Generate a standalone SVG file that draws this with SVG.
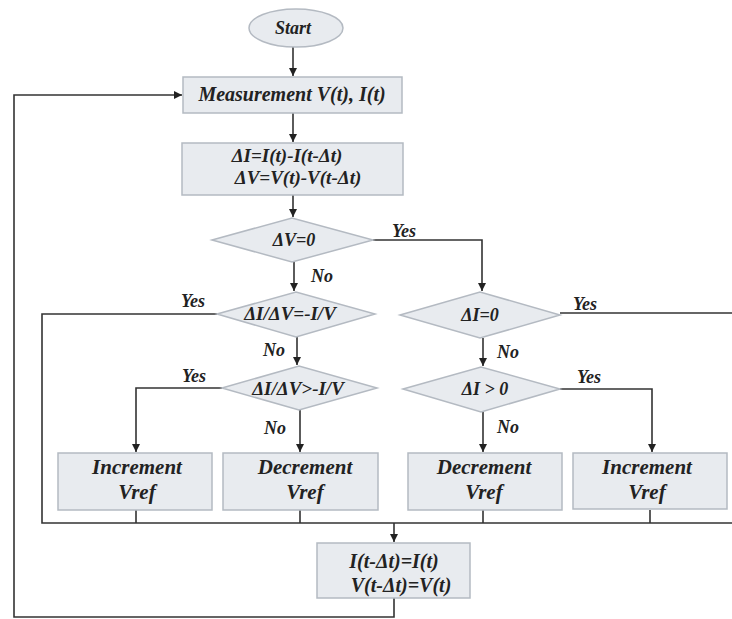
<svg xmlns="http://www.w3.org/2000/svg" width="732" height="619" viewBox="0 0 732 619">
<defs>
<marker id="arr" viewBox="0 0 10 10" refX="10" refY="5" markerWidth="8" markerHeight="9" markerUnits="userSpaceOnUse" orient="auto">
<path d="M0,0 L10,5 L0,10 z" fill="#222"/>
</marker>
<style>
.box{fill:#e8ebef;stroke:#b4bac2;stroke-width:1.5}
.ln{fill:none;stroke:#333;stroke-width:1.6}
text{font-family:'Liberation Serif','DejaVu Serif','Times New Roman',serif;font-weight:bold;font-style:italic;fill:#222;text-anchor:middle}
.s20{font-size:20px}
.s18{font-size:18px}
.s19{font-size:19px}
.s21{font-size:21px}
</style>
</defs>
<rect width="732" height="619" fill="#fff"/>
<g id="connectors">
<path class="ln" d="M293,47 V76" marker-end="url(#arr)"/>
<path class="ln" d="M293,113 V142" marker-end="url(#arr)"/>
<path class="ln" d="M293,195 V217" marker-end="url(#arr)"/>
<path class="ln" d="M373,240 H482 V291" marker-end="url(#arr)"/>
<path class="ln" d="M294,262 V291" marker-end="url(#arr)"/>
<path class="ln" d="M217,314 H42 V523 H732"/>
<path class="ln" d="M560,313 H732"/>
<path class="ln" d="M297,337 V365" marker-end="url(#arr)"/>
<path class="ln" d="M483,338 V366" marker-end="url(#arr)"/>
<path class="ln" d="M222,388 H136 V452" marker-end="url(#arr)"/>
<path class="ln" d="M300,410 V452" marker-end="url(#arr)"/>
<path class="ln" d="M560,389 H652 V452" marker-end="url(#arr)"/>
<path class="ln" d="M483,412 V452" marker-end="url(#arr)"/>
<path class="ln" d="M136,510 V523 M300,510 V523 M483,510 V523 M650,510 V523"/>
<path class="ln" d="M394,523 V542" marker-end="url(#arr)"/>
<path class="ln" d="M394,598 V617 H14 V95 H182" marker-end="url(#arr)"/>
<text class="s18" x="404" y="237">Yes</text>
<text class="s18" x="322" y="282">No</text>
<text class="s18" x="193" y="307">Yes</text>
<text class="s18" x="274" y="356">No</text>
<text class="s18" x="194" y="382">Yes</text>
<text class="s18" x="275" y="434">No</text>
<text class="s18" x="585" y="310">Yes</text>
<text class="s18" x="508" y="358">No</text>
<text class="s18" x="589" y="383">Yes</text>
<text class="s18" x="508" y="433">No</text>
</g>
<g id="start">
<ellipse cx="296" cy="28" rx="47" ry="19" class="box"/>
<text class="s18" x="293" y="34">Start</text>
</g>
<g id="measure">
<rect class="box" x="183" y="77" width="219" height="36"/>
<text class="s20" x="292" y="101">Measurement V(t), I(t)</text>
</g>
<g id="delta">
<rect class="box" x="182" y="143" width="221" height="52"/>
<text class="s19" x="287" y="162">ΔI=I(t)-I(t-Δt)</text>
<text class="s19" x="298" y="184">ΔV=V(t)-V(t-Δt)</text>
</g>
<g id="dv0">
<polygon class="box" points="212,240 292,218 373,240 292,262"/>
<text class="s18" x="294" y="246">ΔV=0</text>
</g>
<g id="cond1">
<polygon class="box" points="217,314 296,292 375,314 296,337"/>
<text class="s19" x="290" y="320">ΔI/ΔV=-I/V</text>
</g>
<g id="cond2">
<polygon class="box" points="222,388 299,366 377,388 299,410"/>
<text class="s19" x="298" y="395">ΔI/ΔV&gt;-I/V</text>
</g>
<g id="di0">
<polygon class="box" points="400,315 480,292 560,315 480,338"/>
<text class="s18" x="480" y="321">ΔI=0</text>
</g>
<g id="dipos">
<polygon class="box" points="403,389 481,367 560,389 481,412"/>
<text class="s18" x="485" y="395">ΔI &gt; 0</text>
</g>
<g id="inc1">
<rect class="box" x="58" y="453" width="154" height="57"/>
<text class="s21" x="137" y="474">Increment</text>
<text class="s21" x="137" y="499">Vref</text>
</g>
<g id="dec1">
<rect class="box" x="223" y="453" width="155" height="57"/>
<text class="s21" x="305" y="474">Decrement</text>
<text class="s21" x="305" y="499">Vref</text>
</g>
<g id="dec2">
<rect class="box" x="408" y="453" width="154" height="57"/>
<text class="s21" x="484" y="474">Decrement</text>
<text class="s21" x="484" y="499">Vref</text>
</g>
<g id="inc2">
<rect class="box" x="573" y="453" width="154" height="56"/>
<text class="s21" x="647" y="474">Increment</text>
<text class="s21" x="647" y="499">Vref</text>
</g>
<g id="update">
<rect class="box" x="317" y="543" width="153" height="55"/>
<text class="s20" x="394" y="568">I(t-Δt)=I(t)</text>
<text class="s20" x="401" y="592">V(t-Δt)=V(t)</text>
</g>
</svg>
